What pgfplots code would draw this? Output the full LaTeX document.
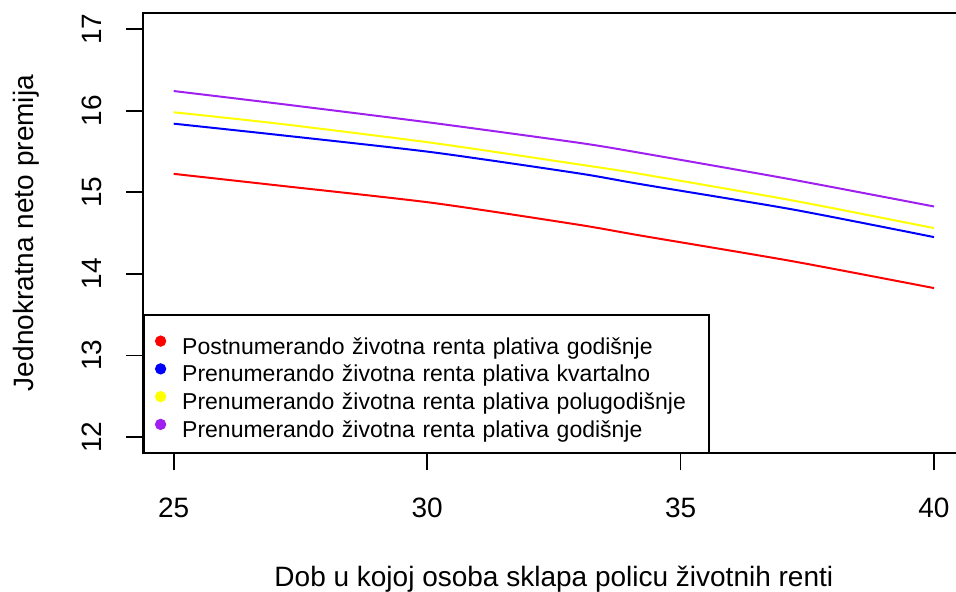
\documentclass[border=0pt]{standalone}
\usepackage{pgfplots}
\pgfplotsset{compat=1.18}
\usepackage{pgfplotstable}
\usepackage{fontspec}
\setmainfont{Liberation Sans}
\definecolor{rpurple}{RGB}{160,32,240}
\definecolor{ryellow}{RGB}{255,255,0}

\pgfplotstableread{
x     post   kvart  polug  god
25.0  15.225 15.84  15.98  16.24
27.1  15.08  15.70  15.838 16.083
30.1  14.87  15.49  15.605 15.85
33.0  14.60  15.23  15.34  15.605
34.2  14.47  15.10  15.225 15.483
37.2  14.155 14.79  14.90  15.155
40.0  13.825 14.45  14.56  14.825
}\datatable

\begin{document}
\begin{tikzpicture}
\begin{axis}[
  at={(0,0)}, anchor=south west,
  scale only axis,
  width=410.55pt, height=220.3pt,
  xmin=24.4, xmax=40.6, ymin=11.8, ymax=17.2,
  xtick={25,30,35,40}, ytick={12,13,14,15,16,17},
  tick pos=left, tick align=outside,
  major tick length=8.5pt,
  every tick/.style={black, line width=0.9pt},
  axis line style={black, line width=0.9pt},
  /pgf/number format/assume math mode=true,
  tick label style={font=\fontsize{14}{16}\selectfont},
  xticklabel style={anchor=base, inner sep=0pt, yshift=-23.5pt},
  yticklabel style={xshift=-12.3pt, rotate=90, anchor=base, inner sep=0pt},
  every axis x label/.style={at={(axis description cs:0.5,0)}, yshift=-66.7pt, anchor=base, inner sep=0pt, font=\fontsize{14}{16}\selectfont},
  every axis y label/.style={at={(axis description cs:0,0.5)}, xshift=-55pt, rotate=90, anchor=base, inner sep=0pt, font=\fontsize{14}{16}\selectfont},
  xlabel={Dob u kojoj osoba sklapa policu životnih renti},
  ylabel={Jednokratna neto premija},
  legend cell align=left,
  legend image code/.code={\fill (0pt,0.5pt) circle (2.3pt);},
  legend style={at={(axis description cs:0,0)}, anchor=south west,
    draw=black, line width=0.9pt, fill=white,
    inner xsep=5.4pt, inner ysep=6.57pt,
    column sep=8pt, row sep=0pt,
    font=\fontsize{11.5}{13}\selectfont,
    nodes={inner sep=0pt, text height=13pt, text depth=0.88pt, text width=258pt, align=left}},
]
\addplot[red, line width=1pt, smooth, tension=0.4] table[x=x, y=post] {\datatable};
\addlegendentry{Postnumerando životna renta plativa godišnje}
\addplot[blue, line width=1pt, smooth, tension=0.4] table[x=x, y=kvart] {\datatable};
\addlegendentry{Prenumerando životna renta plativa kvartalno}
\addplot[ryellow, line width=1pt, smooth, tension=0.4] table[x=x, y=polug] {\datatable};
\addlegendentry{Prenumerando životna renta plativa polugodišnje}
\addplot[rpurple, line width=1pt, smooth, tension=0.4] table[x=x, y=god] {\datatable};
\addlegendentry{Prenumerando životna renta plativa godišnje}
\end{axis}
\pgfresetboundingbox
\useasboundingbox (-71.65pt,-68.85pt) rectangle (406.35pt,226.65pt);
\end{tikzpicture}
\end{document}
